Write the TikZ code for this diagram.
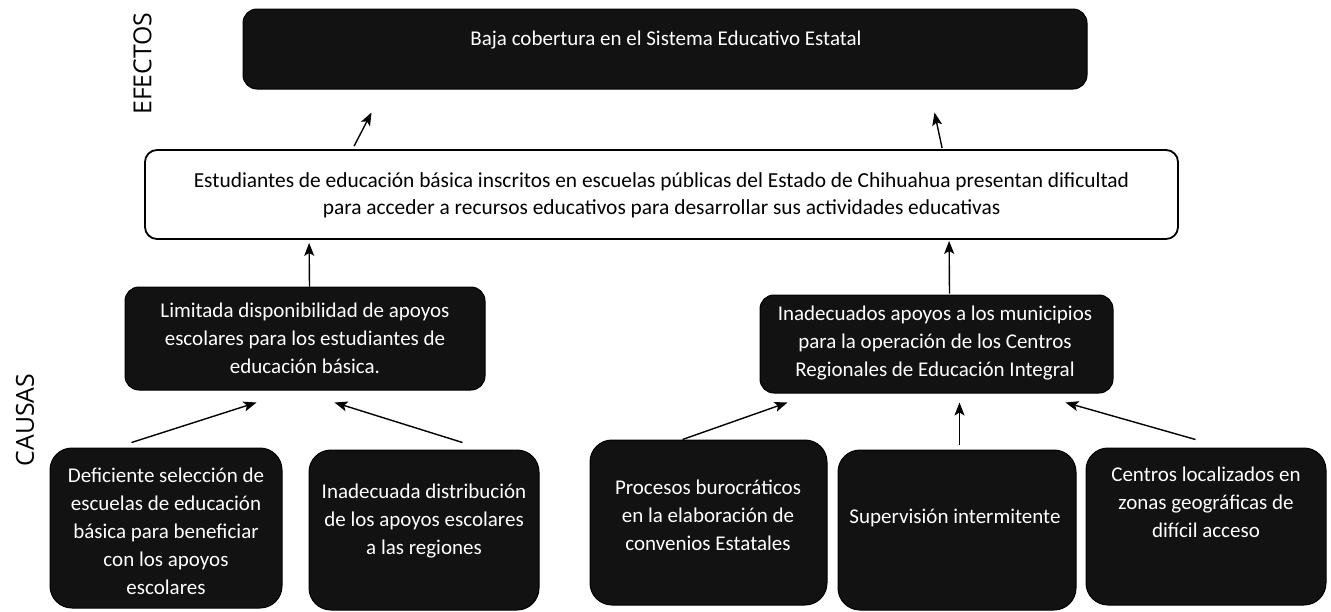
\documentclass[tikz,border=0pt]{standalone}
\usepackage{fontspec}
\setmainfont{Carlito}
\newfontfamily\labfont{Open Sans}
\usetikzlibrary{arrows.meta}
\begin{document}
\begin{tikzpicture}[x=1pt,y=-1pt,
  dbox/.style={draw=black, fill=black!93, rounded corners=14pt, inner sep=0pt, line width=1pt},
  bbox/.style={dbox, rounded corners=22pt},
  wbox/.style={draw=black, fill=white, rounded corners=12pt, inner sep=0pt, line width=1.8pt},
  wtext/.style={text=white, align=center, inner sep=0pt, font=\fontsize{21}{28}\selectfont},
  btext/.style={text=black, align=center, inner sep=0pt, font=\fontsize{21.4}{27}\selectfont},
  side/.style={rotate=90, inner sep=0pt, font=\labfont\fontsize{24.8}{28}\selectfont},
  arr/.style={line width=1.4pt, -{Stealth[length=13pt,width=10pt,inset=3pt]}}]
\useasboundingbox (0,0) rectangle (1331,611);
% side labels
\node[side] (efectos) at (142.5,63.5) {EFECTOS};
\node[side] (causas) at (25,420) {CAUSAS};
% boxes
\node[dbox, minimum width=844pt, minimum height=80pt] (top) at (665,49) {};
\node[wbox, minimum width=1033pt, minimum height=89pt] (mid) at (661.5,194.5) {};
\node[dbox, minimum width=360pt, minimum height=103pt] (lim) at (305,338.5) {};
\node[dbox, minimum width=353pt, minimum height=98pt] (inad) at (936.5,344) {};
\node[bbox, minimum width=232pt, minimum height=160pt] (def) at (166,528) {};
\node[bbox, minimum width=230pt, minimum height=160pt] (dist) at (424,530) {};
\node[bbox, minimum width=237pt, minimum height=165pt] (proc) at (708.5,522.5) {};
\node[bbox, minimum width=238pt, minimum height=160pt] (sup) at (957,530) {};
\node[bbox, minimum width=240pt, minimum height=157pt] (cen) at (1206,526.5) {};
% texts
\node[wtext] (ttop) at (666,40) {Baja cobertura en el Sistema Educativo Estatal};
\node[btext] (tmid) at (661.5,195) {Estudiantes de educación básica inscritos en escuelas públicas del Estado de Chihuahua presentan dificultad\\para acceder a recursos educativos para desarrollar sus actividades educativas};
\node[wtext] (tlim) at (305,338) {Limitada disponibilidad de apoyos\\escolares para los estudiantes de\\educación básica.};
\node[wtext] (tinad) at (935,343) {Inadecuados apoyos a los municipios\\para la operación de los Centros\\Regionales de Educación Integral};
\node[wtext] (tdef) at (166,531) {Deficiente selección de\\escuelas de educación\\básica para beneficiar\\con los apoyos\\escolares};
\node[wtext] (tdist) at (424,521) {Inadecuada distribución\\de los apoyos escolares\\a las regiones};
\node[wtext] (tproc) at (708,515) {Procesos burocráticos\\en la elaboración de\\convenios Estatales};
\node[wtext] (tsup) at (955,518) {Supervisión intermitente};
\node[wtext] (tcen) at (1206,502) {Centros localizados en\\zonas geográficas de\\difícil acceso};
% arrows
\draw[arr] ([shift={(82,-5)}]def.north west) -- ([shift={(132,12)}]lim.south west);
\draw[arr] ([shift={(154,-7)}]dist.north west) -- ([shift={(210,12)}]lim.south west);
\draw[arr] ([shift={(185,0)}]lim.north west) -- ([shift={(165,3)}]mid.south west);
\draw[arr] ([shift={(93,0)}]proc.north west) -- ([shift={(28,9)}]inad.south west);
\draw[arr] ([shift={(122,-5)}]sup.north west) -- ([shift={(200,9)}]inad.south west);
\draw[arr] ([shift={(110,-8)}]cen.north west) -- ([shift={(306,9)}]inad.south west);
\draw[arr] ([shift={(190,-1)}]inad.north west) -- ([shift={(805,1)}]mid.south west);
\draw[arr] ([shift={(210,-3)}]mid.north west) -- ([shift={(129,23)}]top.south west);
\draw[arr] ([shift={(798,-1)}]mid.north west) -- ([shift={(692,23)}]top.south west);
\end{tikzpicture}
\end{document}
